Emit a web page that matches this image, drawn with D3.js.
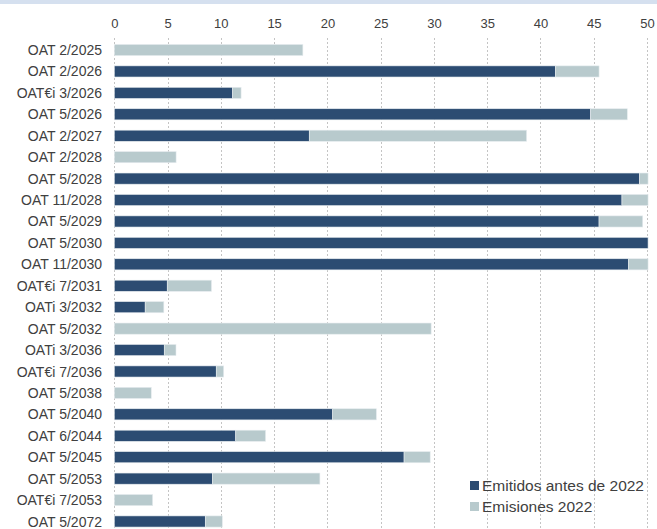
<!DOCTYPE html>
<html><head><meta charset="utf-8">
<script src="https://cdn.jsdelivr.net/npm/d3@7"></script>
<style>body{margin:0;background:#fff;}svg{display:block;font-family:"Liberation Sans",Arial,sans-serif;}</style>
</head><body>
<svg id="c" width="657" height="529"></svg>
<script>
const categories = ["OAT 2/2025","OAT 2/2026","OAT€i 3/2026","OAT 5/2026","OAT 2/2027","OAT 2/2028","OAT 5/2028","OAT 11/2028","OAT 5/2029","OAT 5/2030","OAT 11/2030","OAT€i 7/2031","OATi 3/2032","OAT 5/2032","OATi 3/2036","OAT€i 7/2036","OAT 5/2038","OAT 5/2040","OAT 6/2044","OAT 5/2045","OAT 5/2053","OAT€i 7/2053","OAT 5/2072"];
const emitidosAntes = [0,41.4,11.1,44.7,18.3,0,49.3,47.65,45.5,50.1,48.25,4.97,2.9,0,4.69,9.57,0,20.5,11.4,27.2,9.2,0,8.54];
const emisiones2022 = [17.7,4.1,0.8,3.45,20.4,5.8,0.8,2.45,4.1,0,1.85,4.15,1.75,29.74,1.1,0.7,3.47,4.1,2.8,2.45,10.1,3.6,1.6];
const tickValues = [0,5,10,15,20,25,30,35,40,45,50];
const seriesNames = ["Emitidos antes de 2022","Emisiones 2022"];
const colors = ["#2c4c72","#b8cacd"];

const svg = d3.select("#c");
svg.append("rect").attr("x",0).attr("y",0).attr("width",657).attr("height",4).attr("fill","#d5e0ef");

const x = d3.scaleLinear().domain([0,50]).range([114.3,647]);
const y = d3.scaleBand().domain(categories).range([39.3,532.2]).paddingInner(0.48).paddingOuter(0.24);

// gridlines
svg.append("g").selectAll("line").data(tickValues).join("line")
  .attr("x1",d=>Math.round(x(d))+0.5).attr("x2",d=>Math.round(x(d))+0.5)
  .attr("y1",38).attr("y2",529)
  .attr("stroke","#c4c4c4").attr("stroke-width",1).attr("stroke-dasharray","2,2");

// axis
const ax = svg.append("g").attr("transform","translate(0,28)")
  .call(d3.axisTop(x).tickValues(tickValues).tickSize(0).tickPadding(0));
ax.select(".domain").remove();
ax.selectAll("text").attr("font-size","13px").attr("fill","#404040").attr("font-family","Liberation Sans, Arial, sans-serif").attr("dy","0");

// stacked data
const rows = categories.map((c,i)=>({cat:c,a:emitidosAntes[i],b:emisiones2022[i]}));
const stack = d3.stack().keys(["a","b"])(rows);

svg.append("g").selectAll("g").data(stack).join("g")
  .attr("fill",(d,i)=>colors[i])
  .selectAll("rect").data(d=>d.filter(s=>s[1]-s[0]>0)).join("rect")
  .attr("x",d=>x(d[0])).attr("width",d=>x(d[1])-x(d[0]))
  .attr("y",d=>y(d.data.cat)).attr("height",y.bandwidth())
  .attr("stroke","#e6ecef").attr("stroke-width",0.6);

// category labels
svg.append("g").selectAll("text").data(categories).join("text")
  .attr("x",102).attr("y",d=>y(d)+y.bandwidth()/2).attr("dy","0.36em")
  .attr("text-anchor","end").attr("font-size","14px").attr("fill","#404040")
  .text(d=>d);

// legend
const lg = svg.append("g").selectAll("g").data(seriesNames).join("g")
  .attr("transform",(d,i)=>`translate(470,${481+i*21})`);
lg.append("rect").attr("width",9).attr("height",9).attr("fill",(d,i)=>colors[i]);
lg.append("text").attr("x",12).attr("y",4.5).attr("dy","0.36em")
  .attr("font-size","15.5px").attr("fill","#404040").text(d=>d);
</script>
</body></html>
